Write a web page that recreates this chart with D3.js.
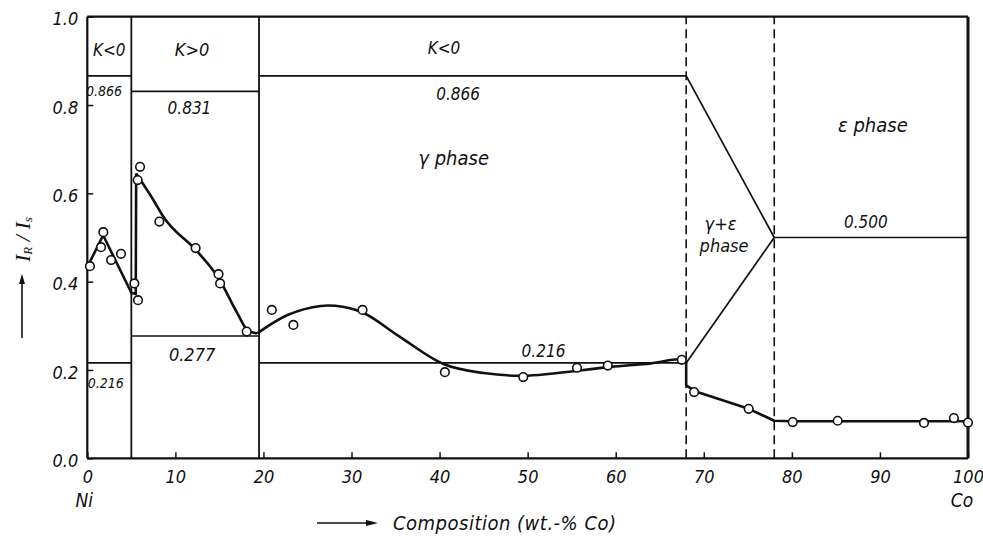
<!DOCTYPE html>
<html><head><meta charset="utf-8">
<script src="https://cdn.jsdelivr.net/npm/d3@7"></script>
<style>
html,body{margin:0;padding:0;background:#fff;}
text{font-family:"DejaVu Sans Condensed","DejaVu Sans",sans-serif;font-style:oblique;fill:#111;}
</style></head>
<body><svg id="c" width="983" height="536"></svg>
<script>
// ---- data ----
const xTicks = [0,10,20,30,40,50,60,70,80,90,100];
const yTicks = [0.0,0.2,0.4,0.6,0.8,1.0];
const boundariesSolid = [5, 19.5];
const boundariesDashed = [68, 78];
// horizontal reference levels [x0, x1, value]
const levels = [[0,5,0.866],[0,5,0.216],[5,19.5,0.831],[5,19.5,0.277],[19.5,68,0.866],[19.5,68,0.216],[78,100,0.500]];
const twoPhaseLines = [[[68,0.866],[78,0.500]],[[68,0.216],[78,0.500]]];
// measured points (x: wt.% Co, y: I_R/I_s)
const pointsX = [0.3,1.56,1.82,2.7,3.83,5.34,5.76,5.72,5.99,8.18,12.3,14.9,15.08,18.1,20.95,23.4,31.25,40.6,49.5,55.6,59.1,67.5,68.9,75.1,80.1,85.2,95.0,98.4,100.0];
const pointsY = [0.435,0.478,0.512,0.449,0.463,0.396,0.358,0.630,0.660,0.536,0.476,0.417,0.396,0.287,0.336,0.302,0.336,0.195,0.184,0.205,0.210,0.223,0.150,0.112,0.082,0.085,0.080,0.091,0.081];
// fitted curve segments
const segA = [[0.3,0.445],[1.8,0.505],[5.0,0.375],[5.5,0.372],[5.55,0.645]];
const segB = [[5.55,0.645],[7.5,0.585],[8.6,0.548],[12.5,0.468],[15,0.405],[17,0.33],[18.3,0.288],[19.3,0.283]];
const segC = [[19.3,0.283],[22.8,0.325],[26.5,0.345],[29,0.343],[31.5,0.328],[35.5,0.275],[40.5,0.213],[45,0.193],[49.5,0.187],[59.4,0.207],[64,0.215],[67.3,0.224],[68,0.218]];
const segD = [[68,0.218],[68,0.165],[69,0.152],[75,0.113],[78,0.085],[80,0.084],[100,0.084]];
// annotations [text, x, y, size]
const labels = [
  ["K<0",2.5,0.925,17],["K>0",11.9,0.925,18],["K<0",40.5,0.929,17],
  ["0.866",1.9,0.832,14],["0.831",11.6,0.793,17],["0.866",42.1,0.825,17],
  ["γ phase",41.6,0.68,20],["ε phase",89.2,0.755,20],
  ["γ+ε",71.9,0.532,18],["phase",72.3,0.483,18],["0.500",88.4,0.535,17],
  ["0.216",2.1,0.171,14],["0.277",11.9,0.236,18],["0.216",51.8,0.243,17]
];

// ---- layout ----
const svg = d3.select("#c");
const x = d3.scaleLinear().domain([0,100]).range([87.3,968]);
const y = d3.scaleLinear().domain([0,1]).range([458.3,16.7]);
const ink = "#111";

// axes
const yAxis = d3.axisLeft(y).tickValues(yTicks).tickFormat(d3.format(".1f")).tickSize(-6).tickPadding(9);
const gy = svg.append("g").attr("transform",`translate(${x(0)},0)`).call(yAxis);
gy.select(".domain").remove();
gy.selectAll("line").attr("stroke",ink).attr("stroke-width",1.5);
gy.selectAll("text").attr("font-size",18).attr("dy","0.45em").style("fill",ink);

const xAxis = d3.axisBottom(x).tickValues(xTicks).tickFormat(d3.format("d")).tickSize(-6).tickPadding(12);
const gx = svg.append("g").attr("transform",`translate(0,${y(0)})`).call(xAxis);
gx.select(".domain").remove();
gx.selectAll("line").attr("stroke",ink).attr("stroke-width",1.5);
gx.selectAll("text").attr("font-size",18).style("fill",ink);

// frame
const fr = svg.append("g").attr("stroke",ink).attr("fill","none");
fr.append("line").attr("x1",x(0)).attr("x2",x(100)).attr("y1",y(0)).attr("y2",y(0)).attr("stroke-width",2.2);
fr.append("line").attr("x1",x(0)).attr("x2",x(100)).attr("y1",y(1)).attr("y2",y(1)).attr("stroke-width",2.2);
fr.append("line").attr("x1",x(0)).attr("x2",x(0)).attr("y1",y(0)).attr("y2",y(1)).attr("stroke-width",2.2);
fr.append("line").attr("x1",x(100)).attr("x2",x(100)).attr("y1",y(0)).attr("y2",y(1)).attr("stroke-width",3);

// boundaries
svg.selectAll(".bs").data(boundariesSolid).join("line")
  .attr("x1",d=>x(d)).attr("x2",d=>x(d)).attr("y1",y(0)).attr("y2",y(1))
  .attr("stroke",ink).attr("stroke-width",1.8);
svg.selectAll(".bd").data(boundariesDashed).join("line")
  .attr("x1",d=>x(d)).attr("x2",d=>x(d)).attr("y1",y(0)).attr("y2",y(1))
  .attr("stroke",ink).attr("stroke-width",1.6).attr("stroke-dasharray","9,5");

// levels
svg.selectAll(".lv").data(levels).join("line")
  .attr("x1",d=>x(d[0])).attr("x2",d=>x(d[1])).attr("y1",d=>y(d[2])).attr("y2",d=>y(d[2]))
  .attr("stroke",ink).attr("stroke-width",1.7);
const lin = d3.line().x(d=>x(d[0])).y(d=>y(d[1]));
svg.selectAll(".tp").data(twoPhaseLines).join("path")
  .attr("d",lin).attr("fill","none").attr("stroke",ink).attr("stroke-width",1.7);

// curves
const smooth = d3.line().x(d=>x(d[0])).y(d=>y(d[1])).curve(d3.curveCatmullRom.alpha(0.5));
const mono = d3.line().x(d=>x(d[0])).y(d=>y(d[1])).curve(d3.curveMonotoneX);
const cg = svg.append("g").attr("fill","none").attr("stroke",ink).attr("stroke-width",2.6).attr("stroke-linejoin","round");
cg.append("path").attr("d",lin(segA));
cg.append("path").attr("d",mono(segB));
cg.append("path").attr("d",smooth(segC));
cg.append("path").attr("d",lin(segD));

// points
svg.append("g").selectAll("circle").data(pointsX.map((v,i)=>[v,pointsY[i]])).join("circle")
  .attr("cx",d=>x(d[0])).attr("cy",d=>y(d[1])).attr("r",4.3)
  .attr("fill","#fff").attr("stroke",ink).attr("stroke-width",1.6);

// annotations
svg.append("g").selectAll("text").data(labels).join("text")
  .attr("x",d=>x(d[1])).attr("y",d=>y(d[2])).attr("font-size",d=>d[3])
  .attr("text-anchor","middle").attr("dominant-baseline","central").text(d=>d[0]);

// end labels
svg.append("text").attr("x",x(0)-3).attr("y",500).attr("font-size",19).attr("text-anchor","middle").attr("dominant-baseline","central").text("Ni");
svg.append("text").attr("x",x(100)-6).attr("y",500).attr("font-size",19).attr("text-anchor","middle").attr("dominant-baseline","central").text("Co");

// x title
svg.append("line").attr("x1",317).attr("x2",372).attr("y1",523).attr("y2",523).attr("stroke",ink).attr("stroke-width",1.6);
svg.append("path").attr("d","M366,520 L378,523 L366,526 Z").attr("fill",ink);
svg.append("text").attr("x",393).attr("y",523).attr("font-size",20).attr("dominant-baseline","central")
  .attr("letter-spacing","0.5").text("Composition (wt.-% Co)");

// y title
const yt = svg.append("g").attr("transform","translate(22,272) rotate(-90)");
yt.append("line").attr("x1",-66).attr("x2",-8).attr("y1",0).attr("y2",0).attr("stroke",ink).attr("stroke-width",1.6);
yt.append("path").attr("d","M-12,-3 L-2,0 L-12,3 Z").attr("fill",ink);
const t = yt.append("text").attr("x",10).attr("y",0).attr("dominant-baseline","central")
  .attr("font-size",22).style("font-family","'Liberation Serif','DejaVu Serif',serif").style("font-style","italic");
t.append("tspan").text("I");
t.append("tspan").attr("font-size",13).attr("dy",5).text("R");
t.append("tspan").attr("dy",-5).text(" / I");
t.append("tspan").attr("font-size",13).attr("dy",5).text("s");
</script></body></html>
